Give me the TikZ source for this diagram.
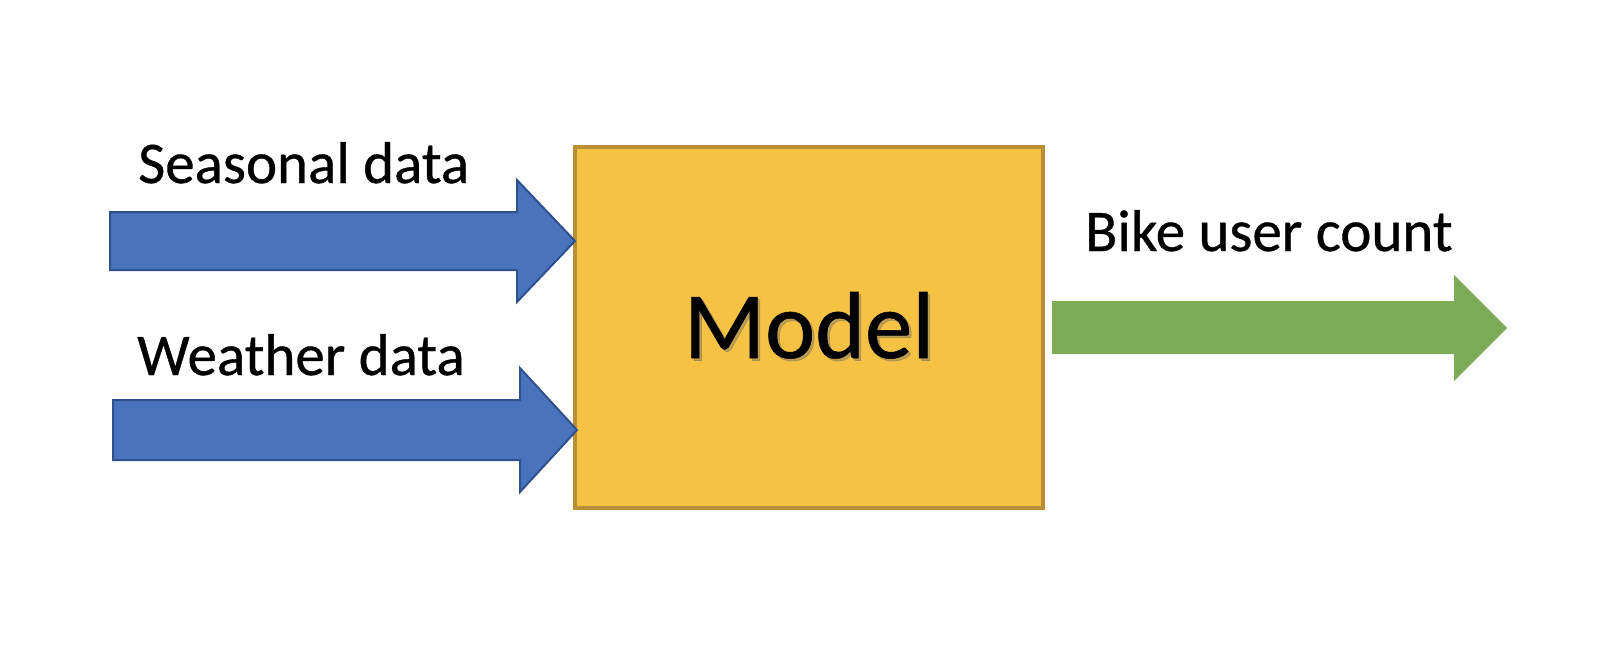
\documentclass[tikz,border=0pt]{standalone}
\usepackage{fontspec}
\setmainfont{Carlito}[FakeBold=0.6,BoldFont=Carlito]
\definecolor{bluefill}{HTML}{4A73BD}
\definecolor{blueline}{HTML}{2F528F}
\definecolor{greenfill}{HTML}{7EAB55}
\definecolor{boxfill}{HTML}{F6C243}
\definecolor{boxline}{HTML}{B98F35}
\begin{document}
\begin{tikzpicture}[x=1pt,y=-1pt,
  lbl/.style={inner sep=0pt,anchor=base west,font=\fontsize{59}{60}\selectfont\bfseries},
  bluearrow/.style={fill=bluefill,draw=blueline,line width=2pt,line join=miter},
  greenarrow/.style={fill=greenfill},
  modelbox/.style={fill=boxfill,draw=boxline,line width=3.5pt,inner sep=0pt}]
\useasboundingbox (0,0) rectangle (1618,672);
% model box
\node[modelbox,minimum width=468pt,minimum height=361pt] (model) at (809,327.5) {};
\coordinate (mt) at (809,358);
\node[inner sep=0pt,anchor=base,text=black!60,opacity=0.4,font=\fontsize{95}{96}\selectfont\bfseries] at ([shift={(2.5,2.5)}]mt) {Model};
\node[inner sep=0pt,anchor=base,font=\fontsize{95}{96}\selectfont\bfseries] (mtext) at (mt) {Model};
% seasonal arrow
\coordinate (t1) at (575,241);
\draw[bluearrow] (110,212) -- (517,212) -- (517,180) -- (t1) -- (517,302) -- (517,270) -- (110,270) -- cycle;
\node[lbl] (seasonal) at (138,183) {Seasonal data};
% weather arrow
\coordinate (t2) at (577,430);
\draw[bluearrow] (113,400) -- (520,400) -- (520,368) -- (t2) -- (520,492) -- (520,460) -- (113,460) -- cycle;
\node[lbl] (weather) at (137,375) {Weather data};
% output arrow
\coordinate (t3) at (1507,328);
\fill[greenarrow] (1052,301) -- (1454,301) -- (1454,275) -- (t3) -- (1454,381) -- (1454,354) -- (1052,354) -- cycle;
\node[lbl] (bike) at (1085,251) {Bike user count};
\end{tikzpicture}
\end{document}
